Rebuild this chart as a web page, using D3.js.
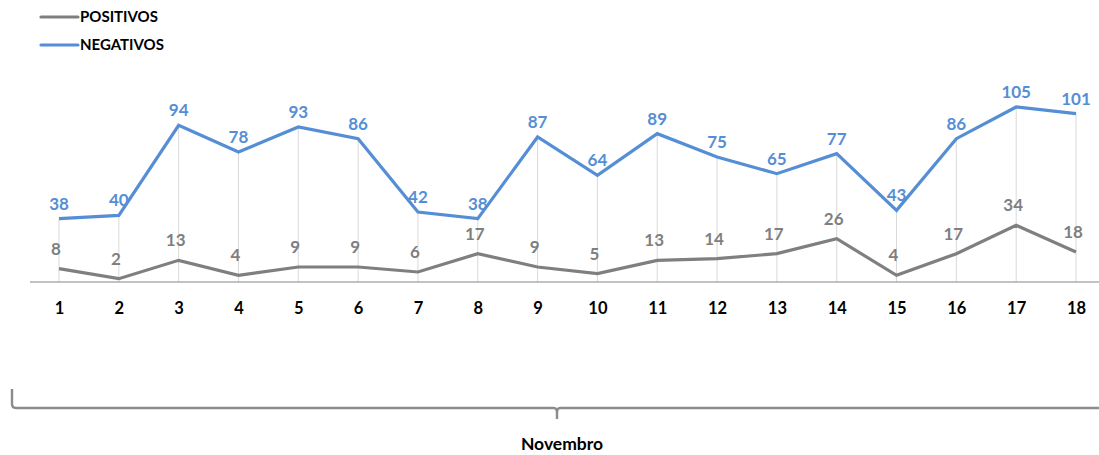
<!DOCTYPE html>
<html>
<head>
<meta charset="utf-8">
<script src="https://cdn.jsdelivr.net/npm/d3@7"></script>
<style>
  body { margin: 0; background: #fff; }
  svg { font-family: Lato, "Open Sans", sans-serif; }
</style>
</head>
<body>
<svg id="chart" width="1099" height="455"></svg>
<script>
const days = ['1','2','3','4','5','6','7','8','9','10','11','12','13','14','15','16','17','18'];
const positivos = [8, 2, 13, 4, 9, 9, 6, 17, 9, 5, 13, 14, 17, 26, 4, 17, 34, 18];
const negativos = [38, 40, 94, 78, 93, 86, 42, 38, 87, 64, 89, 75, 65, 77, 43, 86, 105, 101];
const groupLabel = 'Novembro';

const grayCol = '#7f7f7f';
const blueCol = '#558ed5';

const svg = d3.select('#chart');

const x = d3.scalePoint().domain(days).range([59, 1076]);
const y = d3.scaleLinear().domain([0, 105]).range([282, 107]);

// drop lines
svg.append('g')
    .selectAll('line')
    .data(days)
    .enter().append('line')
    .attr('x1', d => x(d)).attr('x2', d => x(d))
    .attr('y1', (d, i) => y(negativos[i]))
    .attr('y2', y(0))
    .attr('stroke', '#d9d9d9')
    .attr('stroke-width', 1);

// axis
const xAxis = svg.append('g')
    .attr('transform', `translate(0,${y(0)})`)
    .call(d3.axisBottom(x).tickSize(0).tickPadding(20));
xAxis.select('.domain').remove();
xAxis.selectAll('text')
    .attr('font-size', 16.5)
    .attr('font-weight', 'bold')
    .attr('fill', '#000')
    .attr('font-family', 'Lato, sans-serif');
svg.append('line')
    .attr('x1', 30).attr('x2', 1099)
    .attr('y1', y(0)).attr('y2', y(0))
    .attr('stroke', '#868686').attr('stroke-width', 1.2);

const line = d3.line().x((d, i) => x(days[i])).y(d => y(d));

svg.append('path').datum(positivos)
    .attr('d', line).attr('fill', 'none')
    .attr('stroke', grayCol).attr('stroke-width', 3.2);
svg.append('path').datum(negativos)
    .attr('d', line).attr('fill', 'none')
    .attr('stroke', blueCol).attr('stroke-width', 3.2);

// labels
svg.append('g').selectAll('text')
    .data(positivos)
    .enter().append('text')
    .attr('x', (d, i) => x(days[i]) - 3)
    .attr('y', d => y(d) - 14)
    .attr('text-anchor', 'middle')
    .attr('font-size', 17)
    .attr('font-weight', 'bold')
    .attr('fill', grayCol)
    .text(d => d);

svg.append('g').selectAll('text')
    .data(negativos)
    .enter().append('text')
    .attr('x', (d, i) => x(days[i]))
    .attr('y', d => y(d) - 9)
    .attr('text-anchor', 'middle')
    .attr('font-size', 17)
    .attr('font-weight', 'bold')
    .attr('fill', blueCol)
    .text(d => d);

// legend
const legend = svg.append('g');
[['POSITIVOS', grayCol, 17], ['NEGATIVOS', blueCol, 45]].forEach(([name, col, ly]) => {
    legend.append('line')
        .attr('x1', 41).attr('x2', 78)
        .attr('y1', ly).attr('y2', ly)
        .attr('stroke', col).attr('stroke-width', 3.2)
        .attr('stroke-linecap', 'round');
    legend.append('text')
        .attr('x', 80).attr('y', ly + 5)
        .attr('font-size', 15)
        .attr('font-weight', 'bold')
        .attr('fill', '#000')
        .text(name);
});

// brace
const mid = 557;
svg.append('path')
    .attr('d', `M12,389 L12,404 Q12,408 16,408 L${mid - 3},408 Q${mid},408 ${mid},413 L${mid},419 M${mid},413 Q${mid},408 ${mid + 3},408 L1099,408`)
    .attr('fill', 'none')
    .attr('stroke', '#8c8c8c')
    .attr('stroke-width', 2.4);

svg.append('text')
    .attr('x', mid + 5).attr('y', 450)
    .attr('text-anchor', 'middle')
    .attr('font-size', 17.5)
    .attr('font-weight', 'bold')
    .attr('fill', '#000')
    .text(groupLabel);
</script>
</body>
</html>
